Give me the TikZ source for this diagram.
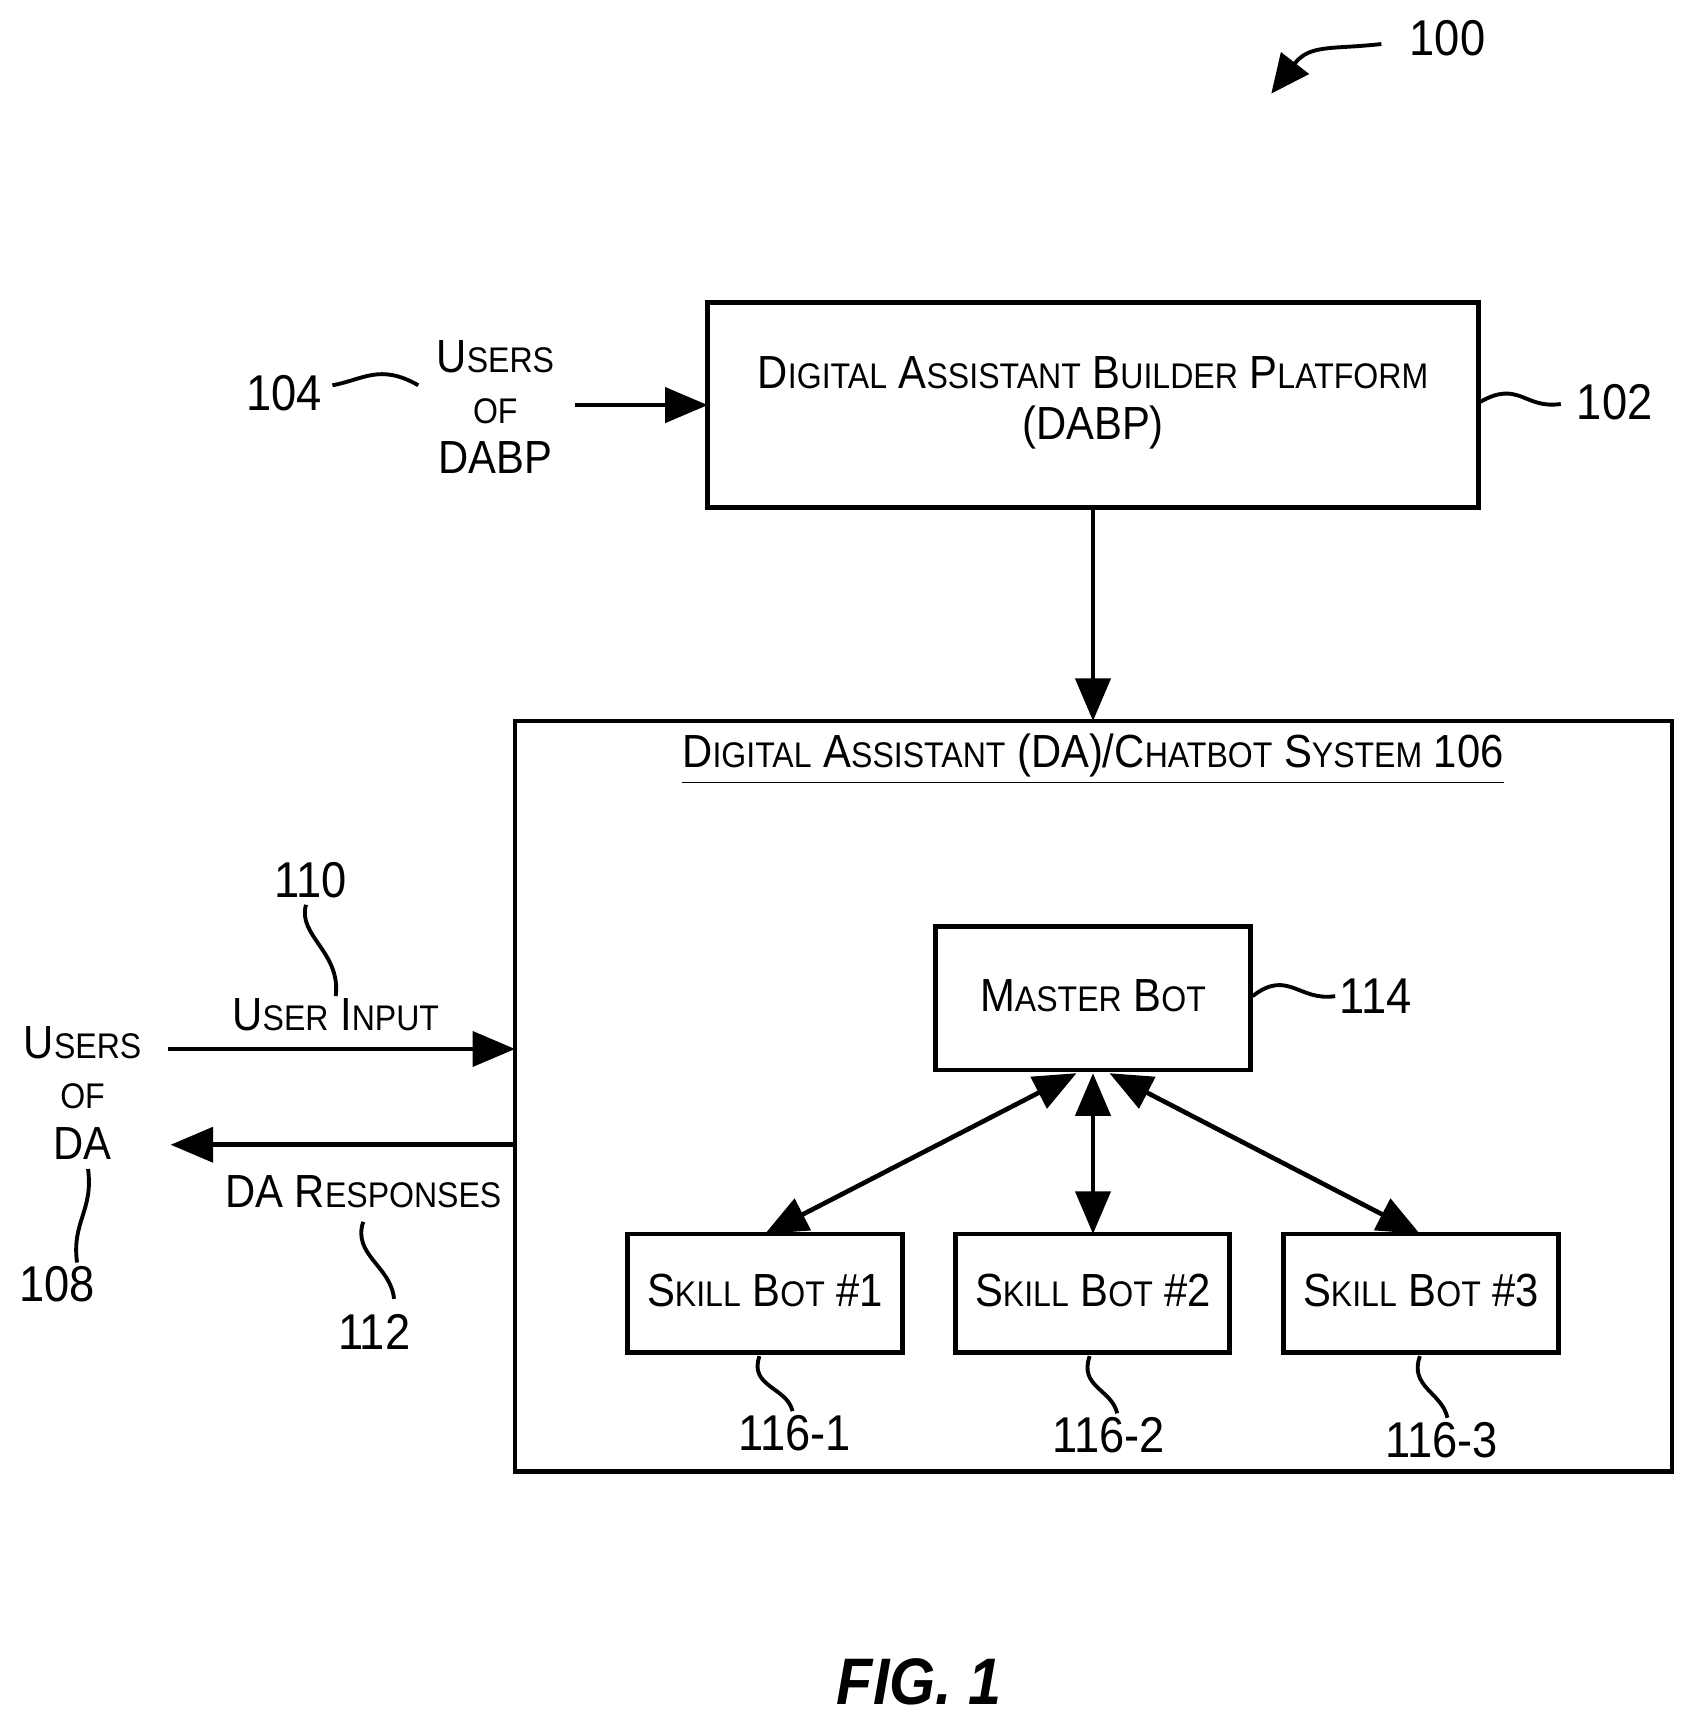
\documentclass[tikz,border=0pt]{standalone}
\usepackage{fontspec}
\setmainfont[FakeStretch=0.9]{Liberation Sans}
\usetikzlibrary{arrows.meta}
\newcommand{\fsc}[2]{{\fontsize{12}{13}\selectfont #1}{\fontsize{9.2}{13}\selectfont #2}}

\begin{document}
\begin{tikzpicture}[x=0.01cm,y=-0.01cm,line width=1.2pt,
  lbl/.style={font=\fontsize{13}{15}\selectfont},
  txt/.style={align=center,font=\fontsize{12}{13}\selectfont},
  arr/.style={-{Triangle[length=11pt,width=9pt]}},
  biarr/.style={{Triangle[length=11pt,width=9pt]}-{Triangle[length=11pt,width=9pt]}}]
\useasboundingbox (0,0) rectangle (1530,1559);

% boxes
\draw (643,275) rectangle (1343,461);
\node[txt] (dabp) at (993,366) {\fsc{D}{IGITAL} \fsc{A}{SSISTANT} \fsc{B}{UILDER} \fsc{P}{LATFORM}\\(DABP)};
\draw (468,655) rectangle (1519,1337);
\node[txt] (da) at (993,690) {\underline{\fsc{D}{IGITAL} \fsc{A}{SSISTANT} (DA)/\fsc{C}{HATBOT} \fsc{S}{YSTEM} 106}};
\draw (850,842) rectangle (1136,972);
\node[txt] (master) at (993,905) {\fsc{M}{ASTER} \fsc{B}{OT}};
\draw (570,1121) rectangle (820,1229);
\draw (868,1121) rectangle (1117,1229);
\draw (1166,1121) rectangle (1416,1229);
\node[txt] (skill1) at (695,1172) {\fsc{S}{KILL} \fsc{B}{OT} \#1};
\node[txt] (skill2) at (993,1172) {\fsc{S}{KILL} \fsc{B}{OT} \#2};
\node[txt] (skill3) at (1291,1172) {\fsc{S}{KILL} \fsc{B}{OT} \#3};

% coordinates for connectors
\coordinate (dabpin) at (643,368);
\coordinate (dabpout) at (993,461);
\coordinate (datop) at (993,655);
\coordinate (mb1) at (978,975);
\coordinate (mb2) at (993,975);
\coordinate (mb3) at (1008,975);
\coordinate (sk1) at (695,1121);
\coordinate (sk2) at (993,1121);
\coordinate (sk3) at (1290,1121);
\coordinate (inleft) at (153,953);
\coordinate (inright) at (468,953);
\coordinate (outright) at (468,1040);
\coordinate (outleft) at (155,1040);

% text labels
\node[txt] (udabp) at (450,370) {\fsc{U}{SERS}\\{\fontsize{9.2}{13}\selectfont OF}\\DABP};
\node[txt] (uda) at (75,993) {\fsc{U}{SERS}\\{\fontsize{9.2}{13}\selectfont OF}\\DA};
\node[txt] (uinput) at (305,922) {\fsc{U}{SER} \fsc{I}{NPUT}};
\node[txt] (dresp) at (330,1083) {DA \fsc{R}{ESPONSES}};

% reference numbers
\node[lbl] (n100) at (1315,35) {100};
\node[lbl] (n102) at (1467,365) {102};
\node[lbl] (n104) at (258,357) {104};
\node[lbl] (n108) at (52,1167) {108};
\node[lbl] (n110) at (282,800) {110};
\node[lbl] (n112) at (340,1210) {112};
\node[lbl] (n114) at (1250,905) {114};
\node[lbl] (n1161) at (722,1302) {116-1};
\node[lbl] (n1162) at (1007,1304) {116-2};
\node[lbl] (n1163) at (1310,1308) {116-3};
\node[font=\bfseries\itshape\fontsize{17}{20}\selectfont] (fig) at (835,1528) {FIG. 1};

% connectors
\draw[arr] (522,368) -- (dabpin);
\draw[arr] (dabpout) -- (datop);
\draw[biarr] (mb1) -- (sk1);
\draw[biarr] (mb2) -- (sk2);
\draw[biarr] (mb3) -- (sk3);
\draw[arr] (inleft) -- (inright);
\draw[arr] (outright) -- (outleft);

% leader squiggles
\draw[line width=1pt,-{Triangle[length=10pt,width=9pt]}] (1255,40) .. controls (1210,45) and (1190,40) .. (1155,85);
\draw[line width=1pt] (1345,365) .. controls (1380,345) and (1385,372) .. (1418,367);
\draw[line width=1pt] (302,350) .. controls (330,345) and (345,330) .. (380,350);
\draw[line width=1pt] (1138,905) .. controls (1170,880) and (1180,910) .. (1213,905);
\draw[line width=1pt] (278,822) .. controls (270,850) and (310,865) .. (305,905);
\draw[line width=1pt] (80,1062) .. controls (85,1100) and (65,1110) .. (70,1147);
\draw[line width=1pt] (330,1110) .. controls (320,1140) and (355,1150) .. (358,1180);
\draw[line width=1pt] (690,1232) .. controls (680,1260) and (715,1260) .. (720,1282);
\draw[line width=1pt] (990,1232) .. controls (980,1260) and (1010,1262) .. (1015,1284);
\draw[line width=1pt] (1290,1232) .. controls (1280,1260) and (1310,1265) .. (1315,1288);
\end{tikzpicture}
\end{document}
